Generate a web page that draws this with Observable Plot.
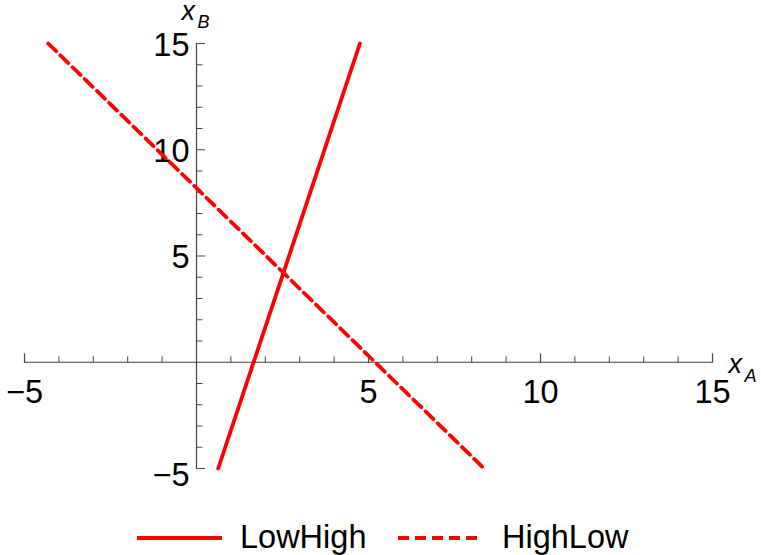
<!DOCTYPE html>
<html><head><meta charset="utf-8">
<script src="https://cdn.jsdelivr.net/npm/d3@7"></script>
<script src="https://cdn.jsdelivr.net/npm/@observablehq/plot@0.6"></script>
<style>
body{margin:0;background:#fff;font-family:"Liberation Sans",Arial,sans-serif;}
#chart svg{display:block;}
#legend{position:relative;width:761px;height:50px;font-size:32.5px;color:#000;}
#legend svg{position:absolute;top:0;}
#legend .lab{position:absolute;top:13px;line-height:38px;}
</style></head><body>
<div id="chart"></div>
<div id="legend"></div>
<script>
// ---- data ----
const xDomain = [-5, 15];
const yDomain = [-5, 15];
const xMajor = [-5, 5, 10, 15];
const xMajorLabels = ["−5", "5", "10", "15"];
const yMajor = [5, 10, 15];
const yMajorLabels = ["5", "10", "15"];
const yNeg = [-5];
const yNegLabels = ["−5"];
const minorTicks = [-4, -3, -2, -1, 1, 2, 3, 4, 6, 7, 8, 9, 11, 12, 13, 14];
const seriesNames = ["LowHigh", "HighLow"];
const lowHighX = [0.63, 4.75];
const lowHighY = [-5, 15];
const highLowX = [-4.31, 8.36];
const highLowY = [15, -5];

const red = "#ff0000";
const axisColor = "#444";
const fs = 32.5;
const tickShape = {draw(ctx, l) { ctx.moveTo(0, 0); ctx.lineTo(0, -l); }};

const lowHigh = lowHighX.map((x, i) => ({x, y: lowHighY[i]}));
const highLow = highLowX.map((x, i) => ({x, y: highLowY[i]}));

const plot = Plot.plot({
  width: 761, height: 505,
  marginTop: 43, marginRight: 49, marginBottom: 37, marginLeft: 24,
  style: {fontFamily: "'Liberation Sans', Arial, sans-serif", overflow: "visible"},
  x: {domain: xDomain, axis: null},
  y: {domain: yDomain, axis: null},
  marks: [
    // axes
    Plot.ruleY([0], {x1: xDomain[0], x2: xDomain[1], stroke: axisColor, strokeWidth: 1.2}),
    Plot.ruleX([0], {y1: yDomain[0], y2: yDomain[1], stroke: axisColor, strokeWidth: 1.2}),
    Plot.vector(xMajor, {x: d => d, y: 0, length: 8.5, rotate: 0, anchor: "start", shape: tickShape, stroke: axisColor, strokeWidth: 1.2}),
    Plot.vector(minorTicks, {x: d => d, y: 0, length: 5.5, rotate: 0, anchor: "start", shape: tickShape, stroke: axisColor, strokeWidth: 1}),
    Plot.vector([...yNeg, ...yMajor], {x: 0, y: d => d, length: 8, rotate: 90, anchor: "start", shape: tickShape, stroke: axisColor, strokeWidth: 1.2}),
    Plot.vector(minorTicks, {x: 0, y: d => d, length: 5.5, rotate: 90, anchor: "start", shape: tickShape, stroke: axisColor, strokeWidth: 1}),
    // tick labels
    Plot.text(xMajor, {x: d => d, y: 0, text: (d, i) => xMajorLabels[i], dy: 30, fontSize: fs, fill: "#000"}),
    Plot.text(yMajor, {x: 0, y: d => d, text: (d, i) => yMajorLabels[i], dx: -7, dy: 2, textAnchor: "end", fontSize: fs, fill: "#000"}),
    Plot.text(yNeg, {x: 0, y: d => d, text: (d, i) => yNegLabels[i], dx: -7, dy: 7, textAnchor: "end", fontSize: fs, fill: "#000"}),
    // axis labels
    Plot.text([yDomain[1]], {x: 0, y: d => d, text: () => "x", fontStyle: "italic", fontSize: 27, dx: -15, dy: -23.5, textAnchor: "start", lineAnchor: "bottom", fill: "#000"}),
    Plot.text([yDomain[1]], {x: 0, y: d => d, text: () => "B", fontStyle: "italic", fontSize: 18, dx: 1, dy: -16, textAnchor: "start", lineAnchor: "bottom", fill: "#000"}),
    Plot.text([xDomain[1]], {x: d => d, y: 0, text: () => "x", fontStyle: "italic", fontSize: 27, dx: 16, dy: 11, textAnchor: "start", lineAnchor: "bottom", fill: "#000"}),
    Plot.text([xDomain[1]], {x: d => d, y: 0, text: () => "A", fontStyle: "italic", fontSize: 18, dx: 32, dy: 20, textAnchor: "start", lineAnchor: "bottom", fill: "#000"}),
    // series
    Plot.line(lowHigh, {x: "x", y: "y", stroke: red, strokeWidth: 3.8}),
    Plot.line(highLow, {x: "x", y: "y", stroke: red, strokeWidth: 3.8, strokeDasharray: "11,6"})
  ]
});
document.getElementById("chart").appendChild(plot);

// legend
const legend = document.getElementById("legend");
legend.innerHTML = `
  <svg width="90" height="50" style="left:135px"><line x1="2" x2="87" y1="33" y2="33" stroke="${red}" stroke-width="3.8"/></svg>
  <span class="lab" style="left:240px">${seriesNames[0]}</span>
  <svg width="84" height="50" style="left:396px"><line x1="2" x2="81" y1="33" y2="33" stroke="${red}" stroke-width="3.8" stroke-dasharray="11,6"/></svg>
  <span class="lab" style="left:502px">${seriesNames[1]}</span>`;
</script>
</body></html>
